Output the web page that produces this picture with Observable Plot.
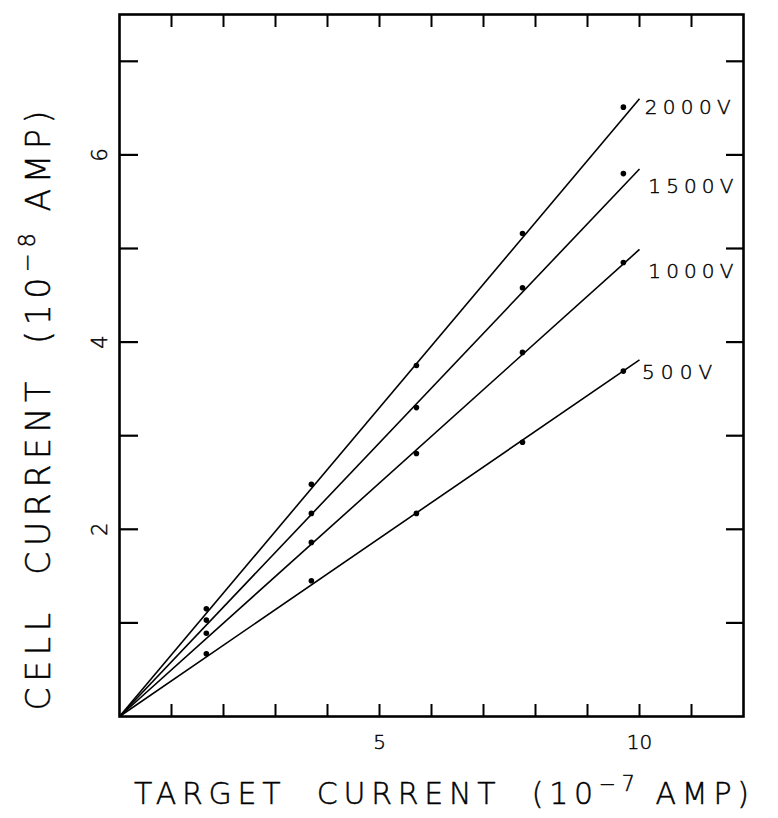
<!DOCTYPE html>
<html><head><meta charset="utf-8">
<script src="https://cdn.jsdelivr.net/npm/d3@7"></script>
<script src="https://cdn.jsdelivr.net/npm/@observablehq/plot@0.6"></script>
<style>body{margin:0;background:#fff} svg text{font-weight:200; stroke:#000; stroke-width:0.45px}</style>
</head><body><div id="chart"></div>
<script>
// ---- data ----
const series = ["2000V", "1500V", "1000V", "500V"];
const targetCurrent = [1.67, 3.69, 5.71, 7.75, 9.69];
const cell2000 = [1.15, 2.48, 3.75, 5.16, 6.51];
const cell1500 = [1.03, 2.17, 3.30, 4.58, 5.80];
const cell1000 = [0.89, 1.86, 2.81, 3.89, 4.85];
const cell500  = [0.67, 1.45, 2.17, 2.93, 3.69];
const fitEndX = [10.0, 10.0, 10.0, 10.0];
const fitEndY = [6.60, 5.85, 4.99, 3.81];
const labelX = [10.1, 10.17, 10.17, 10.05];
const labelY = [6.51, 5.66, 4.75, 3.67];
const xTicks = [1, 2, 3, 4, 5, 6, 7, 8, 9, 10, 11];
const xTickLabels = [5, 10];
const yTicks = [1, 2, 3, 4, 5, 6, 7];
const yTickLabels = [2, 4, 6];
// titles: [before superscript, superscript, after]
const xTitleParts = ["TARGET  CURRENT  (10", "\u2212" + "7", " AMP)"];
const yTitleParts = ["CELL  CURRENT  (10", "\u2212" + "8", " AMP)"];
const xTitle = xTitleParts.join("");
const yTitle = yTitleParts.join("");

const cellValues = [cell2000, cell1500, cell1000, cell500];
const points = series.flatMap((s, i) => targetCurrent.map((x, j) => ({s, x, y: cellValues[i][j]})));
const fits = series.map((s, i) => ({s, x1: 0, y1: 0, x2: fitEndX[i], y2: fitEndY[i]}));
const labels = series.map((s, i) => ({s, x: labelX[i], y: labelY[i]}));

const font = "'DejaVu Sans', sans-serif";
const chart = Plot.plot({
  width: 778,
  height: 818,
  marginLeft: 119,
  marginRight: 35,
  marginTop: 14,
  marginBottom: 102,
  style: {fontFamily: font, background: "#fff", color: "#000"},
  x: {domain: [0, 12]},
  y: {domain: [0, 7.5]},
  marks: [
    Plot.frame({stroke: "#000", strokeWidth: 2.6}),
    Plot.axisX({anchor: "bottom", ticks: xTicks, tickSize: -12, tickFormat: () => "", label: null, strokeWidth: 2}),
    Plot.axisX({anchor: "top", ticks: xTicks, tickSize: -12, tickFormat: () => "", label: null, strokeWidth: 2}),
    Plot.axisY({anchor: "left", ticks: yTicks, tickSize: -19, tickFormat: () => "", label: null, strokeWidth: 2.2}),
    Plot.axisY({anchor: "right", ticks: yTicks, tickSize: -18, tickFormat: () => "", label: null, strokeWidth: 2.2}),
    Plot.axisX({anchor: "bottom", ticks: xTickLabels, tickSize: 0, tickPadding: 18, fontSize: 20, label: null}),
    Plot.axisY({anchor: "left", ticks: yTickLabels, tickSize: 0, tickPadding: 13, tickRotate: -90, fontSize: 21, label: null}),
    Plot.link(fits, {x1: "x1", y1: "y1", x2: "x2", y2: "y2", stroke: "#000", strokeWidth: 1.6}),
    Plot.dot(points, {x: "x", y: "y", r: 2.8, fill: "#000"}),
    Plot.text(labels, {x: "x", y: "y", text: "s", textAnchor: "start", fontSize: 20, fill: "#000"}),
    Plot.text([xTitle], {frameAnchor: "bottom", textAnchor: "middle", lineAnchor: "middle", dx: 10, dy: 78, fontSize: 30, fill: "#000"}),
    Plot.text([yTitle], {frameAnchor: "left", textAnchor: "middle", lineAnchor: "middle", dx: -80, dy: 45, rotate: -90, fontSize: 33, fill: "#000"})
  ]
});
document.getElementById("chart").appendChild(chart);

// superscripts and stretching to the reference widths
function superscript(node, parts, size) {
  const sel = d3.select(node);
  sel.text(null);
  sel.append("tspan").text(parts[0]);
  sel.append("tspan").attr("dy", -size * 0.45).attr("font-size", size * 0.68).text(parts[1]);
  sel.append("tspan").attr("dy", size * 0.45).text(parts[2]);
}
const lengths = {"2000V": 86, "1500V": 85, "1000V": 85, "500V": 70};
d3.select(chart).selectAll("text").each(function () {
  const t = this.textContent;
  if (t === xTitle) {
    superscript(this, xTitleParts, 30);
    d3.select(this).attr("textLength", 615).attr("lengthAdjust", "spacing");
  } else if (t === yTitle) {
    superscript(this, yTitleParts, 33);
    d3.select(this).attr("textLength", 600).attr("lengthAdjust", "spacing");
  } else if (lengths[t]) {
    d3.select(this).attr("textLength", lengths[t]).attr("lengthAdjust", "spacing");
  }
});
</script>
</body></html>
